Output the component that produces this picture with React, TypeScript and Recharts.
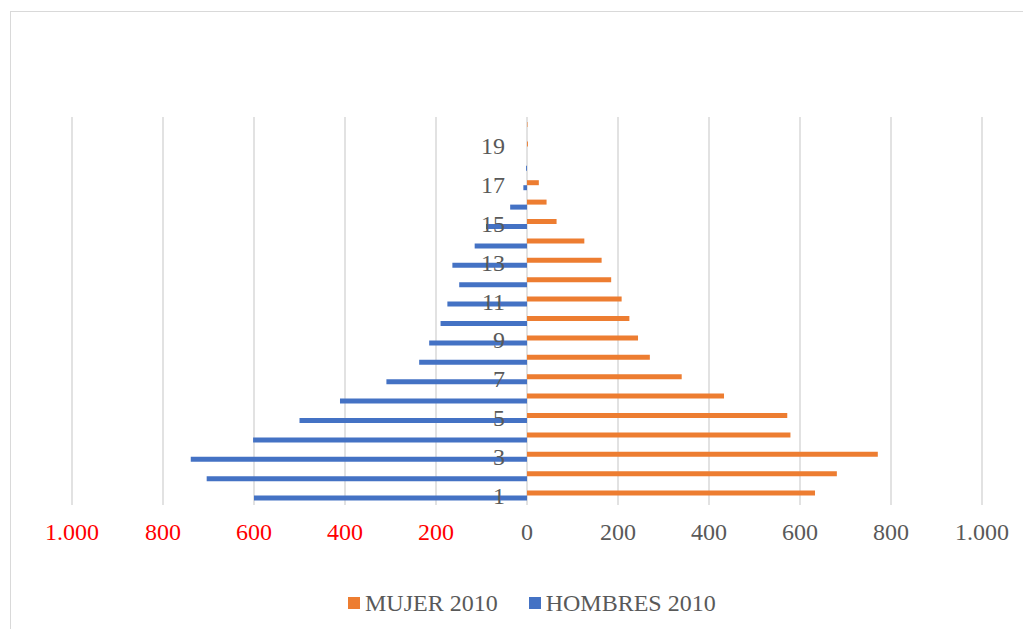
import { BarChart, Bar, XAxis, YAxis, CartesianGrid, LabelList } from "recharts";

const categories = [1, 2, 3, 4, 5, 6, 7, 8, 9, 10, 11, 12, 13, 14, 15, 16, 17, 18, 19, 20];
const mujer2010 = [633, 681, 771, 579, 572, 433, 340, 270, 244, 225, 208, 185, 164, 126, 65, 43, 26, 0, 2, 1];
const hombres2010 = [600, 704, 739, 602, 500, 411, 309, 237, 215, 190, 175, 149, 164, 115, 90, 37, 8, 2, 0, 0];
const xTicks = [-1000, -800, -600, -400, -200, 0, 200, 400, 600, 800, 1000];

const data = categories.map((c, i) => ({
  cat: c,
  mujer: mujer2010[i],
  hombres: -hombres2010[i],
}));

const FONT = "'Liberation Serif', 'Times New Roman', serif";
const GRAY = "#595959";
const ORANGE = "#ED7D31";
const BLUE = "#4472C4";
const BAR = 5;

const fmt = (v: number) => {
  const a = Math.abs(v);
  return a >= 1000 ? `${Math.floor(a / 1000)}.${String(a % 1000).padStart(3, "0")}` : `${a}`;
};

const XTick = (props: any) => {
  const { x, y, payload } = props;
  return (
    <text x={x} y={y} dy={35} textAnchor="middle" fontFamily={FONT} fontSize={24}
      fill={payload.value < 0 ? "#FF0000" : GRAY}>
      {fmt(payload.value)}
    </text>
  );
};

// category labels next to the zero line, drawn on top of the bars (odd ones only).
// normally hung on the blue bar; the orange one takes over where the blue bar is empty
const CatLabel = (props: any) => {
  const { x, y, width, value, series } = props;
  const cat = Number(value);
  if (cat % 2 !== 1) return null;
  const blueEmpty = hombres2010[categories.indexOf(cat)] === 0;
  if (series === "mujer" && !blueEmpty) return null;
  const left = Number(x);
  const right = Number(x) + Number(width);
  const zero = series === "mujer" ? Math.min(left, right) : Math.max(left, right);
  const yc = series === "mujer" ? Number(y) + BAR : Number(y);
  return (
    <text x={zero - 22} y={yc + 8} textAnchor="end" fontFamily={FONT} fontSize={24} fill={GRAY}>
      {cat}
    </text>
  );
};

const legendItems = [
  { name: "MUJER 2010", color: ORANGE },
  { name: "HOMBRES 2010", color: BLUE },
];

export default function App() {
  return (
    <div style={{ position: "relative", width: 1015, height: 621, overflow: "hidden", background: "#fff" }}>
      <div style={{ position: "absolute", left: 2, top: 3, width: 1100, height: 700, border: "1px solid #d9d9d9" }} />
      <BarChart
        width={1015}
        height={621}
        data={data}
        layout="vertical"
        barSize={BAR}
        barGap={0}
        margin={{ top: 109, right: 41, left: 0, bottom: 94 }}
      >
        <CartesianGrid horizontal={false} stroke="#d9d9d9" strokeWidth={1.5} />
        <XAxis
          type="number"
          domain={[-1000, 1000]}
          ticks={xTicks}
          tick={<XTick />}
          tickLine={false}
          axisLine={false}
          tickSize={0}
          tickMargin={0}
          interval={0}
        />
        <YAxis
          type="category"
          dataKey="cat"
          reversed
          width={64}
          tick={false}
          tickLine={false}
          axisLine={false}
        />
        <Bar dataKey="mujer" fill={ORANGE} isAnimationActive={false}>
          <LabelList dataKey="cat" content={<CatLabel series="mujer" />} />
        </Bar>
        <Bar dataKey="hombres" fill={BLUE} isAnimationActive={false}>
          <LabelList dataKey="cat" content={<CatLabel series="hombres" />} />
        </Bar>
      </BarChart>
      <div
        style={{
          position: "absolute",
          left: 340,
          top: 583,
          display: "flex",
          alignItems: "center",
          fontFamily: FONT,
          fontSize: 24,
          lineHeight: "24px",
          color: GRAY,
          whiteSpace: "nowrap",
        }}
      >
        {legendItems.map((it, i) => (
          <div key={it.name} style={{ display: "flex", alignItems: "center", marginRight: i === 0 ? 31 : 0 }}>
            <span style={{ width: 12, height: 12, background: it.color, marginRight: 5, display: "inline-block" }} />
            <span>{it.name}</span>
          </div>
        ))}
      </div>
    </div>
  );
}
